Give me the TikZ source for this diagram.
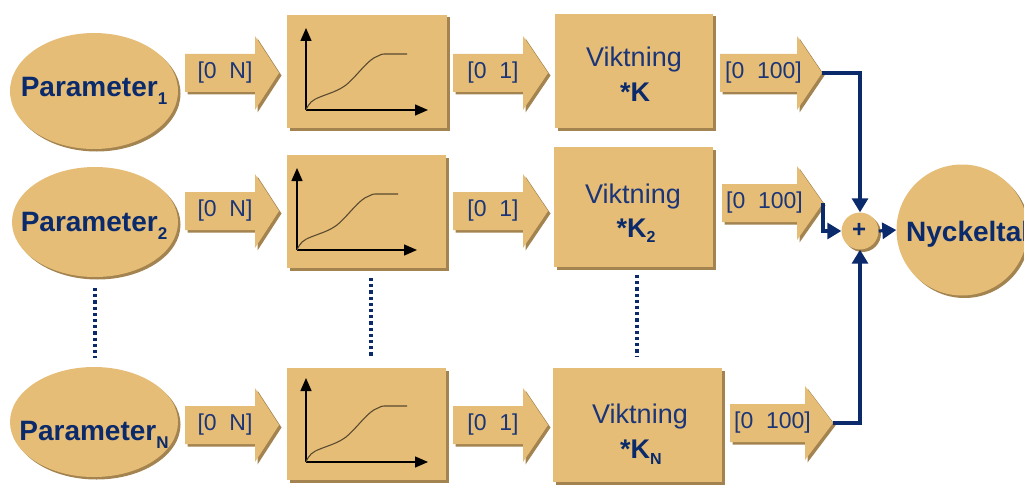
\documentclass[tikz,border=0pt]{standalone}
\usepackage{fontspec}
\setmainfont{Liberation Sans}
\usetikzlibrary{shapes.geometric,shadows,arrows.meta}
\definecolor{tanf}{HTML}{E5BD77}
\definecolor{shad}{HTML}{A3834F}
\definecolor{navy}{HTML}{0B2A6B}
\definecolor{txtb}{HTML}{1B3577}
\definecolor{curvec}{HTML}{5A4A30}
\tikzset{
 blk/.style={fill=tanf, drop shadow={shadow xshift=2.5pt, shadow yshift=-2.5pt, fill=shad, opacity=1}},
 ell/.style={blk, ellipse, inner sep=0pt},
 box/.style={blk, rectangle, inner sep=0pt},
 lbl/.style={text=txtb, font=\fontsize{23}{23}\selectfont, inner sep=0pt},
 ptxt/.style={text=navy, font=\bfseries\fontsize{28}{28}\selectfont, inner sep=0pt, anchor=base},
 vtxt/.style={text=txtb, font=\fontsize{27}{27}\selectfont, inner sep=0pt, anchor=base},
 ktxt/.style={text=navy, font=\bfseries\fontsize{27}{27}\selectfont, inner sep=0pt, anchor=base},
 axisl/.style={line width=1.4pt, -{Triangle[length=13pt,width=11pt]}},
 curvel/.style={line width=1.1pt, draw=curvec},
 conn/.style={draw=navy, line width=3.2pt},
 tiparr/.style={-{Triangle[length=14pt,width=16pt]}},
 dotl/.style={draw=navy, line width=3.2pt, dash pattern=on 3.2pt off 3pt},
}
\newcommand\barrow[6]{%
 \path[blk] (#2,#3) ++(0,-19) -- ++(#4,0) -- ++(0,-18) -- ++(#5,37) -- ++(-#5,37) -- ++(0,-18) -- ++(-#4,0) -- cycle;
 \node[lbl] (#1) at ({#2+#4/2+5},#3) {\relax#6};
 \coordinate (#1tip) at ({#2+#4+#5},#3);
}
\newcommand\graphin[5]{%
 \draw[axisl] (#2,#3) -- (#2,#4);
 \draw[axisl] (#2,#3) -- (#5,#3);
 \draw[curvel, shift={(#2,#3)}] (0,0) .. controls (3,-7) and (6,-10) .. (14,-13) .. controls (24,-17) and (32,-19) .. (40,-25) .. controls (52,-35) and (62,-51) .. (72,-54) .. controls (76,-56) .. (81,-56) -- (101,-56);
 \coordinate (#1) at (#2,#3);
}
\newcommand\subt[1]{\raisebox{-8pt}{\fontsize{17}{17}\selectfont #1}}
\begin{document}
\begin{tikzpicture}[x=1pt,y=-1pt]
\useasboundingbox (0,0) rectangle (1024,484);
\clip (0,0) rectangle (1024,484);
% ellipses
\node[ell, minimum width=168pt, minimum height=116pt] (e1) at (94,91) {};
\node[ell, minimum width=166pt, minimum height=110pt] (e2) at (95,222) {};
\node[ell, minimum width=168pt, minimum height=110pt] (eN) at (94,422) {};
\node[ptxt] (e1t) at (94,97) {Parameter\subt{1}};
\node[ptxt] (e2t) at (94,231) {Parameter\subt{2}};
\node[ptxt] (eNt) at (94,440) {Parameter\subt{N}};
% block arrows
\barrow{a1}{185}{73}{70}{24}{[0\ \ N]}
\barrow{a2}{185}{211}{70}{24}{[0\ \ N]}
\barrow{aN}{185}{425}{70}{24}{[0\ \ N]}
\barrow{b1}{453}{73}{70}{25}{[0\ \ 1]}
\barrow{b2}{453}{211}{70}{25}{[0\ \ 1]}
\barrow{bN}{453}{425}{70}{25}{[0\ \ 1]}
\barrow{c1}{720}{73}{77}{25}{[0\ \ 100]}
\barrow{c2}{722}{203}{75}{26}{[0\ \ 100]}
\barrow{cN}{730}{423}{75}{28}{[0\ \ 100]}
% graph boxes
\node[box, minimum width=160pt, minimum height=113pt] (g1) at (367,71.5) {};
\node[box, minimum width=159pt, minimum height=113pt] (g2) at (366.5,211.5) {};
\node[box, minimum width=159pt, minimum height=112pt] (gN) at (366.5,424) {};
\graphin{o1}{306}{110}{28}{428}
\graphin{o2}{297}{250}{168}{417}
\graphin{oN}{306}{462}{378}{428}
% weighting boxes
\node[box, minimum width=158pt, minimum height=114pt] (v1) at (634,71) {};
\node[box, minimum width=159pt, minimum height=120pt] (v2) at (633.5,207) {};
\node[box, minimum width=169pt, minimum height=114pt] (vN) at (637.5,425) {};
\node[vtxt] (v1a) at (634,67) {Viktning};
\node[ktxt] (v1b) at (635,102) {*K};
\node[vtxt] (v2a) at (633,203) {Viktning};
\node[ktxt] (v2b) at (636,237) {*K\raisebox{-5pt}{\fontsize{16}{16}\selectfont 2}};
\node[vtxt] (vNa) at (640,423) {Viktning};
\node[ktxt] (vNb) at (641,458) {*K\raisebox{-6pt}{\fontsize{16}{16}\selectfont N}};
% sum and result
\node[blk, circle, minimum size=37pt, inner sep=0pt] (plus) at (860,231) {};
\node[text=navy, font=\bfseries\fontsize{24}{24}\selectfont, inner sep=0pt] (plust) at (859,230) {+};
\node[blk, circle, minimum size=131pt, inner sep=0pt] (ny) at (962,230) {};
\node[text=navy, font=\bfseries\fontsize{28}{28}\selectfont, inner sep=0pt, anchor=base west] (nyt) at (906,241) {Nyckeltal};
% connectors
\draw[conn, tiparr] (c1tip) -- (c1tip -| plus) -- (plus.north);
\draw[conn, tiparr] (c2tip) -- (c2tip |- plus) -- (plus.west);
\draw[conn, tiparr] (cNtip) -- (cNtip -| plus) -- (plus.south);
\draw[conn, tiparr] (plus.east) -- (ny.west);
% dotted continuation lines
\coordinate (d1a) at (95,288); \coordinate (d1b) at (95,358);
\coordinate (d2a) at (371,278); \coordinate (d2b) at (371,357);
\coordinate (d3a) at (637,275); \coordinate (d3b) at (637,357);
\draw[dotl] (d1a) -- (d1b);
\draw[dotl] (d2a) -- (d2b);
\draw[dotl] (d3a) -- (d3b);
\end{tikzpicture}
\end{document}
